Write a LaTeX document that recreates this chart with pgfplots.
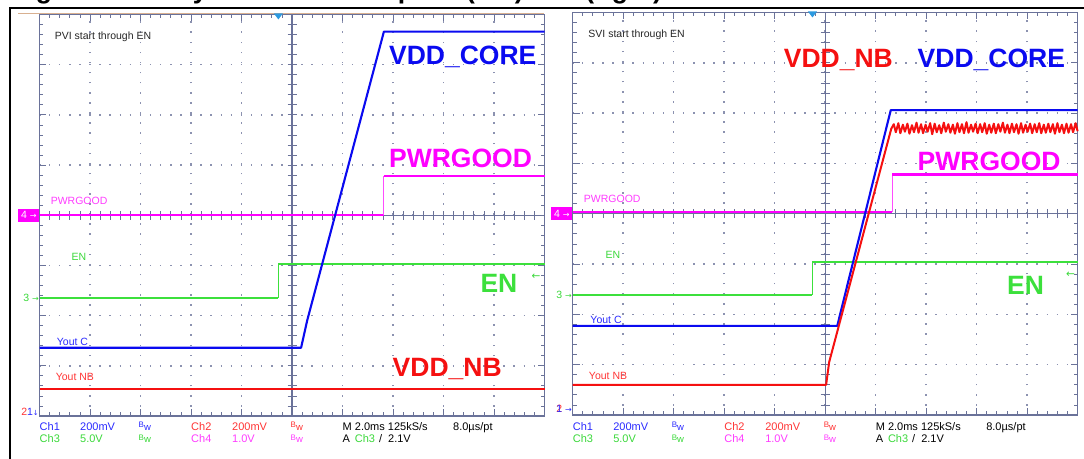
\documentclass[border=0pt]{standalone}
\usepackage{pgfplots}
\pgfplotsset{compat=1.18}
\usepackage{fontspec}
\setmainfont{Liberation Sans}
\newfontfamily\dv{DejaVu Sans}

\definecolor{cblue}{HTML}{0A0AF0}
\definecolor{cred}{HTML}{F51010}
\definecolor{cgreen}{HTML}{3CE03C}
\definecolor{cmag}{HTML}{FF00FF}
\definecolor{tblue}{HTML}{2A2AFF}
\definecolor{tred}{HTML}{FF3434}
\definecolor{tgreen}{HTML}{3AD83A}
\definecolor{tmag}{HTML}{FF3CFF}
\definecolor{grat}{HTML}{6A7299}
\definecolor{gdot}{HTML}{8C92B0}
\definecolor{trig}{HTML}{2C9AE0}
\definecolor{tanline}{HTML}{D8B090}

\newcommand\bigf{\fontsize{26.5bp}{28bp}\selectfont\bfseries}
\newcommand\smf{\fontsize{10.5bp}{12bp}\selectfont}
\newcommand\btf{\fontsize{11bp}{12bp}\selectfont}
\newcommand\arr{{\dv\fontsize{8bp}{8bp}\selectfont→}}
\newcommand\bw{{\fontsize{9.5bp}{9bp}\selectfont\raisebox{2.5bp}{\fontsize{8bp}{8bp}\selectfont B}w}}

\tikzset{tr/.style={line width=2.1bp, line join=round}}

\pgfplotsset{scope/.style={
  scale only axis, width=505bp,
  xmin=0, xmax=10, ymin=0, ymax=8,
  xtick={0,...,10}, ytick={0,...,8},
  minor x tick num=4, minor y tick num=4,
  xticklabels={}, yticklabels={},
  tick align=inside,
  major tick length=7bp, minor tick length=4bp,
  every tick/.style={grat, line width=0.8bp},
  axis line style={grat, line width=1.1bp},
  grid=major,
  major grid style={gdot, line width=1.5bp, dash pattern=on 1.5bp off 8.6bp, dash phase=0.75bp},
  extra x ticks={5}, extra y ticks={4},
  extra x tick labels={}, extra y tick labels={},
  extra tick style={grid=major, major grid style={grat, solid, line width=1.1bp}},
  clip=false,
}}

% channel read-out below each screen
\newcommand\readout{%
  \node[text=tblue] at (0,28.5) {Ch1};
  \node[text=tblue] at (40.5,28.5) {200mV};
  \node[text=tblue] at (99,28.5) {\bw};
  \node[text=tred] at (151.5,28.5) {Ch2};
  \node[text=tred] at (192.5,28.5) {200mV};
  \node[text=tred] at (251,28.5) {\bw};
  \node at (303,28.5) {M 2.0ms 125kS/s};
  \node at (413.5,28.5) {8.0µs/pt};
  \node[text=tgreen] at (0,16) {Ch3};
  \node[text=tgreen] at (40.5,16) {5.0V};
  \node[text=tgreen] at (99,16) {\bw};
  \node[text=tmag] at (151.5,16) {Ch4};
  \node[text=tmag] at (192.5,16) {1.0V};
  \node[text=tmag] at (251,16) {\bw};
  \node at (303,16) {A};
  \node[text=tgreen] at (315.2,16) {Ch3};
  \node at (339.3,16) {/\ \ 2.1V};
}

\begin{document}
\begin{tikzpicture}[x=1bp, y=1bp]
\useasboundingbox (0,0) rectangle (1084,459);
\clip (0,0) rectangle (1084,459);

% cropped caption above the frame
\begin{scope}[every node/.style={anchor=base west, inner sep=0pt, font=\bigf}]
  \node at (12,460) {Figure 14.};
  \node at (175,460) {System};
  \node at (321,460) {Startup};
  \node at (466,460) {(left) and (right)};
\end{scope}
\draw[black, line width=2.2bp] (9,451.3) -- (1084,451.3);
\draw[black, line width=2bp] (10.2,0) -- (10.2,452.4);
\draw[tanline, line width=1bp] (18,445.6) -- (544,445.6);

% ---------------- left screen: PVI ----------------
\begin{axis}[scope, at={(39.5bp,43bp)}, anchor=south west, height=401.5bp]
  \pgfplotsinvokeforeach{0.2,0.4,...,9.9}{\draw[grat, line width=0.8bp] (axis cs:#1,4) ++(0,-4.5bp) -- ++(0,9bp);}
  \pgfplotsinvokeforeach{0.2,0.4,...,7.9}{\draw[grat, line width=0.8bp] (axis cs:5,#1) ++(-4.5bp,0) -- ++(9bp,0);}
  \addplot[tr, cgreen] coordinates {(0,2.35) (4.73,2.35)};
  \addplot[cgreen, line width=0.9bp] coordinates {(4.73,2.35) (4.73,3.02)};
  \addplot[tr, cgreen] coordinates {(4.73,3.02) (10,3.02)};
  \addplot[tr, cmag] coordinates {(0,4.0) (6.82,4.0)};
  \addplot[cmag!70, line width=0.9bp] coordinates {(6.82,4.0) (6.82,4.78)};
  \addplot[tr, cmag] coordinates {(6.82,4.78) (10,4.78)};
  \addplot[tr, cred] coordinates {(0,0.545) (10,0.545)};
  \addplot[tr, cblue] coordinates {(0,1.36) (5.18,1.36) (5.30,1.90) (6.82,7.66) (10,7.66)};

  \fill[trig] (axis cs:4.73,8) ++(-4.5bp,1bp) -- ++(9bp,0) -- ++(-4.5bp,-6bp) -- cycle;

  \node[anchor=base west, inner sep=0pt, font=\smf, text=black!85] at (axis cs:0.3,7.50) {PVI start through EN};
  \node[anchor=base west, inner sep=0pt, font=\smf, text=tmag] at (axis cs:0.22,4.22) {PWRGOOD};
  \node[anchor=base west, inner sep=0pt, font=\smf, text=tgreen] at (axis cs:0.63,3.10) {EN};
  \node[anchor=base west, inner sep=0pt, font=\smf, text=tblue] at (axis cs:0.34,1.40) {Yout C};
  \node[anchor=base west, inner sep=0pt, font=\smf, text=tred] at (axis cs:0.32,0.71) {Yout NB};

  \node[anchor=base west, inner sep=0pt, font=\bigf, text=cblue] at (axis cs:6.92,7.01) {VDD\_CORE};
  \node[anchor=base west, inner sep=0pt, font=\bigf, text=cmag] at (axis cs:6.92,4.95) {PWRGOOD};
  \node[anchor=base west, inner sep=0pt, font=\bigf, text=cgreen] at (axis cs:8.73,2.47) {EN};
  \node[anchor=base west, inner sep=0pt, font=\bigf, text=cred] at (axis cs:6.99,0.79) {VDD\_NB};

  \node[anchor=east, inner sep=0pt, minimum width=21bp, minimum height=13bp, fill=cmag, text=white, font=\smf] at (axis cs:0,4) {4 \arr};
  \node[anchor=east, inner sep=0.5bp, font=\smf, text=tgreen] at (axis cs:0,2.35) {3 \arr};
  \node[anchor=east, inner sep=0.5bp, font=\smf] at (axis cs:0,0.08) {\textcolor{tred}{2}\textcolor{tblue}{1{\dv\fontsize{7bp}{7bp}\selectfont↓}}};
  \node[inner sep=0pt, font=\smf, text=tgreen] at (axis cs:9.83,2.77) {{\dv←}};
\end{axis}

% ---------------- right screen: SVI ----------------
\begin{axis}[scope, at={(572.6bp,44bp)}, anchor=south west, height=402.5bp]
  \pgfplotsinvokeforeach{0.2,0.4,...,9.9}{\draw[grat, line width=0.8bp] (axis cs:#1,4) ++(0,-4.5bp) -- ++(0,9bp);}
  \pgfplotsinvokeforeach{0.2,0.4,...,7.9}{\draw[grat, line width=0.8bp] (axis cs:5,#1) ++(-4.5bp,0) -- ++(9bp,0);}
  \addplot[tr, cgreen] coordinates {(0,2.39) (4.75,2.39)};
  \addplot[cgreen, line width=0.9bp] coordinates {(4.75,2.39) (4.75,3.04)};
  \addplot[tr, cgreen] coordinates {(4.75,3.04) (10,3.04)};
  \addplot[tr, cmag] coordinates {(0,4.03) (6.33,4.03)};
  \addplot[cmag!70, line width=0.9bp] coordinates {(6.33,4.03) (6.33,4.78)};
  \addplot[tr, cmag] coordinates {(6.33,4.78) (10,4.78)};
  \addplot[tr, cblue] coordinates {(0,1.77) (5.24,1.77) (6.30,6.06) (10,6.06)};
  \addplot[tr, cred, line width=2bp] coordinates {
    (0,0.60) (5.02,0.60) (5.08,1.05) (6.31,5.69)
    (6.36,5.78) (6.40,5.62) (6.45,5.80) (6.49,5.60) (6.54,5.77) (6.58,5.63)
    (6.63,5.79) (6.67,5.59) (6.72,5.76) (6.76,5.62) (6.81,5.81) (6.85,5.61)
    (6.90,5.78) (6.94,5.60) (6.99,5.77) (7.03,5.63) (7.08,5.80) (7.12,5.58)
    (7.17,5.79) (7.21,5.62) (7.26,5.76) (7.30,5.60) (7.35,5.81) (7.39,5.63)
    (7.44,5.78) (7.48,5.61) (7.53,5.77) (7.57,5.59) (7.62,5.80) (7.66,5.62)
    (7.71,5.78) (7.75,5.60) (7.80,5.82) (7.84,5.61) (7.89,5.77) (7.93,5.63)
    (7.98,5.79) (8.02,5.60) (8.07,5.78) (8.11,5.62) (8.16,5.80) (8.20,5.59)
    (8.25,5.77) (8.29,5.61) (8.34,5.79) (8.38,5.60) (8.43,5.78) (8.47,5.63)
    (8.52,5.81) (8.56,5.61) (8.61,5.77) (8.65,5.60) (8.70,5.79) (8.74,5.62)
    (8.79,5.78) (8.83,5.59) (8.88,5.80) (8.92,5.61) (8.97,5.77) (9.01,5.63)
    (9.06,5.79) (9.10,5.60) (9.15,5.78) (9.19,5.62) (9.24,5.80) (9.28,5.60)
    (9.33,5.77) (9.37,5.61) (9.42,5.79) (9.46,5.62) (9.51,5.78) (9.55,5.59)
    (9.60,5.80) (9.64,5.62) (9.69,5.77) (9.73,5.60) (9.78,5.79) (9.82,5.61)
    (9.87,5.78) (9.91,5.62) (9.96,5.80) (10,5.64)};

  \fill[trig] (axis cs:4.75,8) ++(-4.5bp,1bp) -- ++(9bp,0) -- ++(-4.5bp,-6bp) -- cycle;

  \node[anchor=base west, inner sep=0pt, font=\smf, text=black!85] at (axis cs:0.31,7.51) {SVI start through EN};
  \node[anchor=base west, inner sep=0pt, font=\smf, text=tmag] at (axis cs:0.22,4.22) {PWRGOOD};
  \node[anchor=base west, inner sep=0pt, font=\smf, text=tgreen] at (axis cs:0.65,3.11) {EN};
  \node[anchor=base west, inner sep=0pt, font=\smf, text=tblue] at (axis cs:0.35,1.81) {Yout C};
  \node[anchor=base west, inner sep=0pt, font=\smf, text=tred] at (axis cs:0.32,0.71) {Yout NB};

  \node[anchor=base west, inner sep=0pt, font=\bigf, text=cred] at (axis cs:4.18,6.91) {VDD\_NB};
  \node[anchor=base west, inner sep=0pt, font=\bigf, text=cblue] at (axis cs:6.83,6.91) {VDD\_CORE};
  \node[anchor=base west, inner sep=0pt, font=\bigf, text=cmag] at (axis cs:6.83,4.85) {PWRGOOD};
  \node[anchor=base west, inner sep=0pt, font=\bigf, text=cgreen] at (axis cs:8.6,2.40) {EN};

  \node[anchor=east, inner sep=0pt, minimum width=21bp, minimum height=13bp, fill=cmag, text=white, font=\smf] at (axis cs:0,4) {4 \arr};
  \node[anchor=east, inner sep=0.5bp, font=\smf, text=tgreen] at (axis cs:0,2.39) {3 \arr};
  \node[anchor=east, inner sep=0.5bp, font=\smf] at (axis cs:0,0.13) {\rlap{\textcolor{tred}{2}}\textcolor{tblue}{1 \arr}};
  \node[inner sep=0pt, font=\smf, text=tgreen] at (axis cs:9.86,2.79) {{\dv←}};
\end{axis}

% read-outs
\begin{scope}[xshift=39.5bp, every node/.style={anchor=base west, inner sep=0pt, font=\btf}]
  \readout
\end{scope}
\begin{scope}[xshift=572.6bp, every node/.style={anchor=base west, inner sep=0pt, font=\btf}]
  \readout
\end{scope}
\end{tikzpicture}
\end{document}
